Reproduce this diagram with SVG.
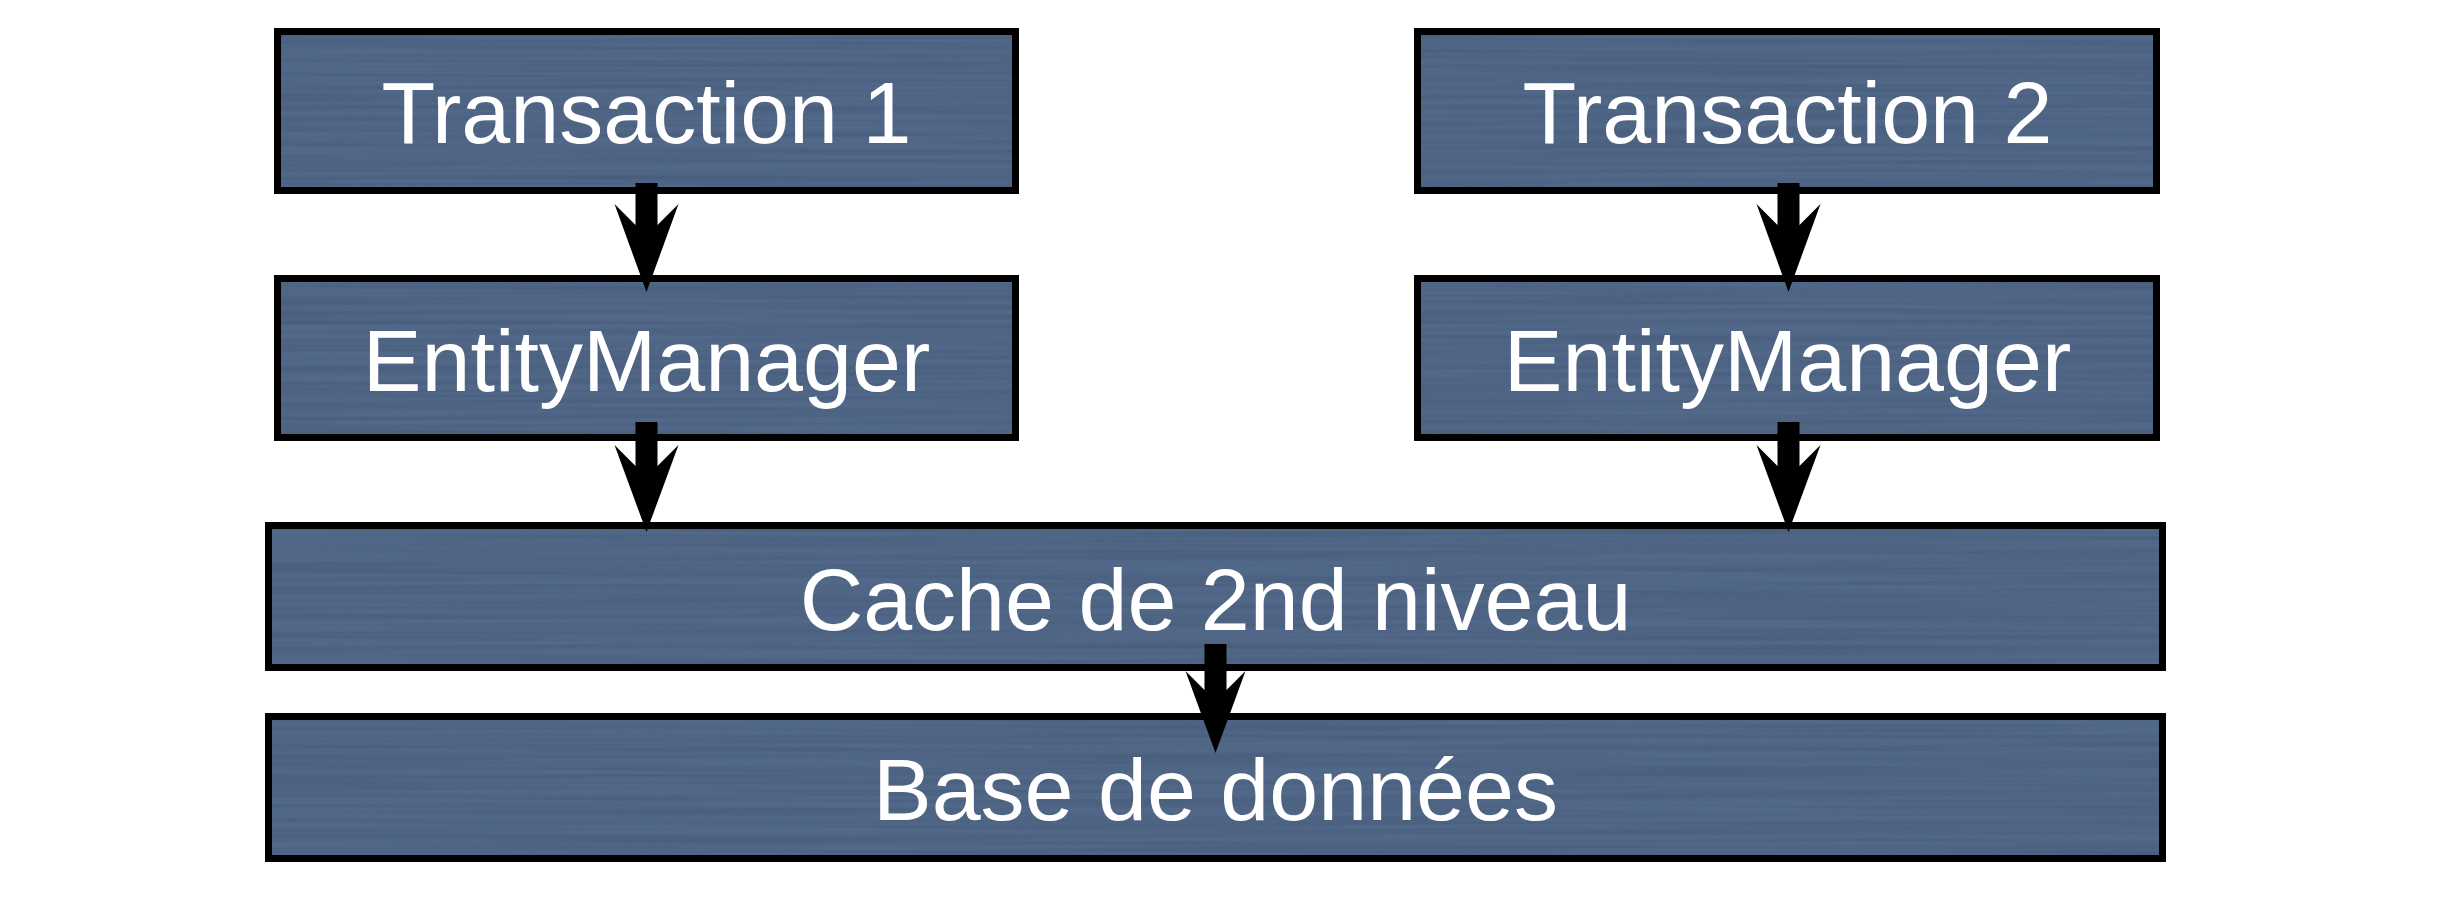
<svg xmlns="http://www.w3.org/2000/svg" width="2462" height="900" viewBox="0 0 2462 900">
  <style>
    .box { fill: #526888; stroke: #000; stroke-width: 7; }
    .streak { fill: #526888; filter: url(#brush); }
    .label { font-family: "Liberation Sans", Arial, sans-serif; font-size: 88px; fill: #fff; text-anchor: middle; }
    .arrow { fill: #000; stroke: none; }
  </style>
  <defs>
    <filter id="brush" x="0" y="0" width="100%" height="100%" color-interpolation-filters="sRGB">
      <feTurbulence type="fractalNoise" baseFrequency="0.002 0.2" numOctaves="2" seed="7" result="n"/>
      <feColorMatrix in="n" type="matrix" values="0 0 0 0 0.22  0 0 0 0 0.29  0 0 0 0 0.40  0.7 0 0 0 -0.25" result="d"/>
      <feComposite in="d" in2="SourceGraphic" operator="in" result="t"/>
      <feMerge><feMergeNode in="SourceGraphic"/><feMergeNode in="t"/></feMerge>
    </filter>
  </defs>
  <rect width="2462" height="900" fill="#fff"/>

  <g id="transaction1">
    <rect class="box" x="277.5" y="31.5" width="738" height="159"/>
    <rect class="streak" x="281" y="35" width="731" height="152"/>
    <text class="label" x="646.5" y="143">Transaction 1</text>
  </g>
  <g id="transaction2">
    <rect class="box" x="1417.5" y="31.5" width="739" height="159"/>
    <rect class="streak" x="1421" y="35" width="732" height="152"/>
    <text class="label" x="1787.5" y="143">Transaction 2</text>
  </g>
  <g id="entitymanager1">
    <rect class="box" x="277.5" y="278.5" width="738" height="159"/>
    <rect class="streak" x="281" y="282" width="731" height="152"/>
    <text class="label" x="646.5" y="391">EntityManager</text>
  </g>
  <g id="entitymanager2">
    <rect class="box" x="1417.5" y="278.5" width="739" height="159"/>
    <rect class="streak" x="1421" y="282" width="732" height="152"/>
    <text class="label" x="1787.5" y="391">EntityManager</text>
  </g>
  <g id="cache">
    <rect class="box" x="268.5" y="525.5" width="1894" height="142"/>
    <rect class="streak" x="272" y="529" width="1887" height="135"/>
    <text class="label" x="1215.5" y="630">Cache de 2nd niveau</text>
  </g>
  <g id="database">
    <rect class="box" x="268.5" y="716.5" width="1894" height="142"/>
    <rect class="streak" x="272" y="720" width="1887" height="135"/>
    <text class="label" x="1215.5" y="820">Base de données</text>
  </g>

  <g id="connectors">
    <g>
      <rect class="arrow" x="635.5" y="183" width="22" height="60"/>
      <polygon class="arrow" points="614.5,204 646.5,292 678.5,204 646.5,236"/>
    </g>
    <g>
      <rect class="arrow" x="635.5" y="422" width="22" height="62"/>
      <polygon class="arrow" points="614.5,445 646.5,532 678.5,445 646.5,477"/>
    </g>
    <g>
      <rect class="arrow" x="1777.5" y="183" width="22" height="60"/>
      <polygon class="arrow" points="1756.5,204 1788.5,292 1820.5,204 1788.5,236"/>
    </g>
    <g>
      <rect class="arrow" x="1777.5" y="422" width="22" height="62"/>
      <polygon class="arrow" points="1756.5,445 1788.5,532 1820.5,445 1788.5,477"/>
    </g>
    <g>
      <rect class="arrow" x="1204.5" y="644" width="22" height="64"/>
      <polygon class="arrow" points="1185.5,671 1215.5,753 1245.5,671 1215.5,701"/>
    </g>
  </g>
</svg>
